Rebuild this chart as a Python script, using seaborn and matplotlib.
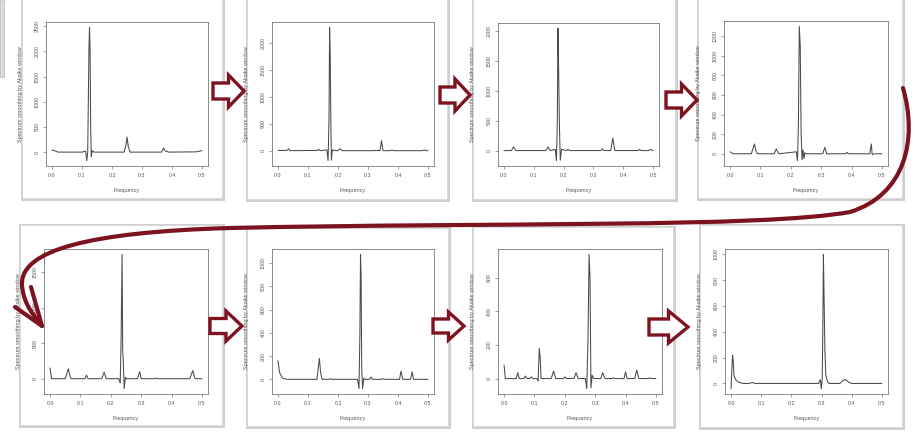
#!/usr/bin/env python3
"""Eight smoothed spectra (Akaike window) laid out as a sequence with arrows."""

import matplotlib
matplotlib.use("Agg")
import matplotlib.pyplot as plt
import pandas as pd
import seaborn as sns
from matplotlib.lines import Line2D
from matplotlib.patches import FancyArrowPatch, Polygon, Rectangle
from matplotlib.path import Path

# ---- data ----------------------------------------------------------------
freq1 = [0.0, 0.01, 0.02, 0.10, 0.112, 0.116, 0.119, 0.121, 0.123, 0.125, 0.127, 0.129,
         0.131, 0.134, 0.14, 0.24, 0.246, 0.25, 0.254, 0.26, 0.365, 0.372, 0.378, 0.39, 0.48, 0.5]
power1 = [40, 25, 0, 0, 20, -170, 0, 950, 2000, 2480, 2000, 450,
          -90, 30, 0, 0, 120, 300, 120, 0, 0, 80, 20, 0, 5, 30]

freq2 = [0.0, 0.03, 0.035, 0.04, 0.13, 0.135, 0.14, 0.163, 0.167, 0.17, 0.172, 0.174, 0.176,
         0.178, 0.181, 0.185, 0.2, 0.207, 0.214, 0.3, 0.34, 0.345, 0.35, 0.375, 0.38, 0.385,
         0.48, 0.488, 0.495, 0.5]
power2 = [10, 10, 40, 5, 10, 30, 5, 20, -180, 600, 2290, 1800, 600,
          -170, 20, 10, 5, 40, 5, 5, 10, 190, 5, 5, 20, 5,
          5, 20, 5, 5]

freq3 = [0.0, 0.025, 0.032, 0.04, 0.14, 0.148, 0.155, 0.172, 0.176, 0.179, 0.181, 0.183,
         0.186, 0.189, 0.193, 0.21, 0.215, 0.22, 0.325, 0.33, 0.335, 0.358, 0.365, 0.372,
         0.45, 0.455, 0.46, 0.485, 0.49, 0.5]
power3 = [0, 0, 60, 0, 0, 60, 0, 20, -170, 500, 2050, 1500,
          400, -160, 20, 0, 20, 0, 0, 30, 0, 0, 210, 0,
          0, 20, 0, 0, 20, 0]

freq4 = [0.0, 0.01, 0.07, 0.08, 0.085, 0.09, 0.145, 0.152, 0.16, 0.218, 0.222, 0.225, 0.228,
         0.231, 0.234, 0.237, 0.24, 0.243, 0.246, 0.25, 0.305, 0.312, 0.318, 0.38, 0.385,
         0.39, 0.46, 0.465, 0.468, 0.475, 0.5]
power4 = [20, 0, 0, 100, 30, 0, 0, 50, 0, 20, -70, 300, 1300,
          1100, 200, -60, 40, -50, 10, 0, 0, 65, 0, 0, 15,
          0, 0, 100, -10, 0, 0]

freq5 = [0.0, 0.005, 0.05, 0.06, 0.066, 0.07, 0.115, 0.12, 0.125, 0.17, 0.178, 0.185,
         0.226, 0.231, 0.234, 0.237, 0.239, 0.241, 0.244, 0.248, 0.252, 0.288, 0.295, 0.3,
         0.345, 0.35, 0.355, 0.46, 0.47, 0.476, 0.48, 0.5]
power5 = [150, 0, 0, 140, 30, 0, 0, 50, 0, 0, 90, 0,
          0, -60, 600, 1750, 400, 250, -140, 20, 0, 0, 100, 0,
          0, 10, 0, 0, 115, 10, 0, 0]

freq6 = [0.0, 0.005, 0.015, 0.03, 0.13, 0.135, 0.138, 0.142, 0.147, 0.17, 0.175, 0.18,
         0.265, 0.27, 0.273, 0.275, 0.277, 0.279, 0.282, 0.286, 0.29, 0.305, 0.31, 0.315,
         0.345, 0.35, 0.355, 0.405, 0.41, 0.416, 0.442, 0.447, 0.452, 0.5]
power6 = [160, 60, 10, 0, 0, 120, 180, 60, 0, 0, 5, 0,
          0, -80, 400, 1075, 900, 100, -80, 10, 0, 0, 20, 0,
          0, 5, 0, 0, 70, 0, 0, 65, 0, 0]

freq7 = [0.0, 0.004, 0.04, 0.045, 0.05, 0.065, 0.07, 0.075, 0.085, 0.09, 0.095, 0.108,
         0.112, 0.116, 0.119, 0.122, 0.126, 0.155, 0.163, 0.17, 0.195, 0.2, 0.205, 0.23,
         0.237, 0.244, 0.268, 0.272, 0.276, 0.28, 0.283, 0.286, 0.29, 0.295, 0.318, 0.325,
         0.332, 0.355, 0.36, 0.365, 0.395, 0.4, 0.405, 0.43, 0.437, 0.444, 0.475, 0.48,
         0.485, 0.5]
power7 = [80, 0, 0, 35, 0, 0, 15, 0, 0, 10, 0, 0,
          -15, 180, 120, 0, 0, 0, 45, 0, 0, 10, 0, 0,
          35, 0, 0, -60, 200, 740, 600, -55, 20, 0, 0, 35,
          0, 0, 5, 0, 0, 40, 0, 0, 50, 0, 0, 5,
          0, 0]

freq8 = [0.0, 0.003, 0.005, 0.007, 0.01, 0.015, 0.025, 0.04, 0.06, 0.07, 0.08, 0.29,
         0.296, 0.299, 0.302, 0.304, 0.306, 0.308, 0.311, 0.314, 0.317, 0.32, 0.325, 0.36,
         0.372, 0.38, 0.39, 0.4, 0.5]
power8 = [-40, 120, 220, 180, 60, 30, 10, 0, 0, 8, 0, 0,
          30, -40, 30, 400, 1000, 700, 250, 60, 40, 10, 0, 0,
          25, 30, 10, 0, 0]

yticks1 = [0, 500, 1000, 1500, 2000, 2500]
yticks2 = [0, 500, 1000, 1500, 2000]
yticks3 = [0, 500, 1000, 1500, 2000]
yticks4 = [0, 200, 400, 600, 800, 1000, 1200]
yticks5 = [0, 500, 1000, 1500]
yticks6 = [0, 200, 400, 600, 800, 1000]
yticks7 = [0, 200, 400, 600]
yticks8 = [0, 200, 400, 600, 800, 1000]
xticks = [0.0, 0.1, 0.2, 0.3, 0.4, 0.5]

X_LABEL = "Frequency"
Y_LABEL = "Spectrum smoothing by Akaike window"

# ---- layout (pixels of a 915x438 canvas) ---------------------------------
W, H = 915, 438
RED = "#7d1221"
# axes box: left, top, right, bottom
BOXES = [(46, 22, 208, 166), (272, 22, 434, 166), (498, 23, 659, 166), (724, 21, 888, 166),
         (44, 249, 208, 394), (272, 249, 434, 394), (498, 249, 662, 394), (725, 249, 888, 394)]
CARDS = [(22, -4, 222, 198), (247, -4, 447, 199), (473, -4, 675, 199), (698, -4, 902, 198),
         (20, 225, 222, 425), (247, 228, 448, 426), (473, 227, 673, 426), (700, 225, 902, 427)]
# hollow arrows: left x, mid y, length, half height
ARROWS = [(213, 91, 31, 16), (440, 95, 30, 16), (666, 100, 31, 16),
          (210, 326, 32, 15), (433, 326, 31, 14), (649, 327, 39, 16)]


def fig_rect(l, t, r, b):
    return [l / W, 1 - b / H, (r - l) / W, (b - t) / H]


def fx(x):
    return x / W


def fy(y):
    return 1 - y / H


def draw_panel(fig, box, freq, power, yticks):
    l, t, r, b = box
    ax = fig.add_axes(fig_rect(l, t, r, b), zorder=2)
    ax.set_facecolor("white")
    df = pd.DataFrame({"freq": freq, "power": power})
    sns.lineplot(data=df, x="freq", y="power", ax=ax, color="#4a4a4a",
                 linewidth=0.75, estimator=None)
    ax.margins(x=0.04, y=0.04)
    ax.set_xticks(xticks)
    ax.set_xticklabels([f"{v:.1f}" for v in xticks])
    ax.set_yticks(yticks)
    ax.set_yticklabels([str(v) for v in yticks], rotation=90, va="center")
    ax.tick_params(axis="both", length=2.2, width=0.5, color="#777777",
                   labelsize=3.8, labelcolor="#555555", pad=2.5)
    for sp in ax.spines.values():
        sp.set_visible(True)
        sp.set_color("#777777")
        sp.set_linewidth(0.6)
    ax.set_xlabel(X_LABEL, fontsize=4, color="#555555")
    ax.set_ylabel(Y_LABEL, fontsize=4, color="#555555")
    wpx, hpx = r - l, b - t
    ax.xaxis.set_label_coords(0.5, -22 / hpx)
    ax.yaxis.set_label_coords(-23 / wpx, 0.5)
    return ax


def main() -> None:
    sns.set_theme(style="ticks")
    plt.rcParams["font.family"] = ["Liberation Sans", "DejaVu Sans"]

    fig = plt.figure(figsize=(W / 100, H / 100), dpi=100)
    fig.patch.set_facecolor("white")

    # small grey strip of a window behind the first card
    fig.patches.append(Rectangle((fx(0), fy(77)), 4 / W, 77 / H, transform=fig.transFigure,
                                 facecolor="#dcdcdc", edgecolor="#b8b8b8", lw=0.5, zorder=0.2))

    for (l, t, r, b) in CARDS:
        fig.patches.append(Rectangle((fx(l - 1), fy(b + 3)), (r - l + 4) / W, (b - t + 4) / H,
                                     transform=fig.transFigure, facecolor="#cfcfcf",
                                     edgecolor="none", zorder=0.4))
        fig.patches.append(Rectangle((fx(l), fy(b)), (r - l) / W, (b - t) / H,
                                     transform=fig.transFigure, facecolor="white",
                                     edgecolor="#d8d8d8", lw=0.6, zorder=0.5))

    series = [(freq1, power1, yticks1), (freq2, power2, yticks2), (freq3, power3, yticks3),
              (freq4, power4, yticks4), (freq5, power5, yticks5), (freq6, power6, yticks6),
              (freq7, power7, yticks7), (freq8, power8, yticks8)]
    for box, (fr, pw, yt) in zip(BOXES, series):
        draw_panel(fig, box, fr, pw, yt)

    # hollow block arrows between panels
    for x0, ym, length, hh in ARROWS:
        sh = hh * 0.5
        xs = x0 + length * 0.5
        pts = [(x0, ym - sh), (xs, ym - sh), (xs, ym - hh), (x0 + length, ym),
               (xs, ym + hh), (xs, ym + sh), (x0, ym + sh)]
        fig.patches.append(Polygon([(fx(x), fy(y)) for x, y in pts], closed=True,
                                   transform=fig.transFigure, facecolor="white",
                                   edgecolor=RED, lw=2.4, joinstyle="miter", zorder=5))

    # long curved arrow from the end of row one back to the start of row two
    verts = [(903, 88),
             (918, 140), (905, 195), (850, 212),
             (760, 228), (500, 222), (230, 228),
             (90, 232), (20, 250), (22, 285),
             (23, 300), (30, 312), (41, 324)]
    codes = [Path.MOVETO] + [Path.CURVE4] * 12
    path = Path([(fx(x), fy(y)) for x, y in verts], codes)
    fig.patches.append(FancyArrowPatch(path=path, arrowstyle="-", color=RED, lw=3.0,
                                       transform=fig.transFigure, zorder=6))
    for ax_, ay_ in [(31, 287), (15, 307)]:
        fig.lines.append(Line2D([fx(ax_), fx(42)], [fy(ay_), fy(326)], color=RED, lw=3.0,
                                solid_capstyle="round", transform=fig.transFigure, zorder=6))

    fig.savefig("out.png", dpi=100, facecolor="white")
    plt.close(fig)


if __name__ == "__main__":
    main()
